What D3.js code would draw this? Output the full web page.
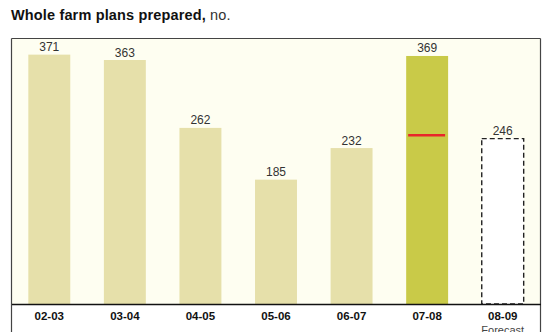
<!DOCTYPE html>
<html>
<head>
<meta charset="utf-8">
<script src="https://cdn.jsdelivr.net/npm/d3@7"></script>
<style>
  html, body { margin: 0; padding: 0; background: #fff; }
  svg { display: block; font-family: "Liberation Sans", Arial, sans-serif; }
</style>
</head>
<body>
<svg id="chart" width="547" height="332"></svg>
<script>
// Whole farm plans prepared, by financial year
const years = ["02-03", "03-04", "04-05", "05-06", "06-07", "07-08", "08-09"];
const plans = [371, 363, 262, 185, 232, 369, 246];
const kinds = ["actual", "actual", "actual", "actual", "actual", "current", "forecast"];
const targetYear = "07-08";
const targetValue = 251;
const yMax = 395;

const svg = d3.select("#chart");
const frame = { left: 11.5, right: 540.5, top: 38.5, axis: 304 };

const x = d3.scaleBand()
  .domain(years)
  .range([frame.left, frame.right])
  .paddingInner(0.445)
  .paddingOuter(0.2225);

const y = d3.scaleLinear()
  .domain([0, yMax])
  .range([frame.axis, frame.top]);

// Title
const title = svg.append("text")
  .attr("x", 11)
  .attr("y", 20)
  .attr("font-size", 14.5)
  .attr("letter-spacing", 0.15)
  .attr("fill", "#111");
title.append("tspan").attr("font-weight", "bold").text("Whole farm plans prepared,");
title.append("tspan").attr("fill", "#333").text(" no.");

// Plot background
svg.append("rect")
  .attr("x", frame.left)
  .attr("y", frame.top)
  .attr("width", frame.right - frame.left)
  .attr("height", frame.axis - frame.top)
  .attr("fill", "#fefef1");

const data = years.map((yr, i) => ({ year: yr, value: plans[i], kind: kinds[i] }));

const fills = { actual: "#e6e0aa", current: "#c9ca48", forecast: "#ffffff" };

svg.append("g").selectAll("rect")
  .data(data)
  .join("rect")
  .attr("x", d => x(d.year))
  .attr("y", d => y(d.value))
  .attr("width", x.bandwidth())
  .attr("height", d => y(0) - y(d.value))
  .attr("fill", d => fills[d.kind])
  .attr("stroke", d => d.kind === "forecast" ? "#222" : "none")
  .attr("stroke-width", 1.4)
  .attr("stroke-dasharray", d => d.kind === "forecast" ? "5,3" : null);

// Target marker
svg.append("line")
  .attr("x1", x(targetYear) + 2)
  .attr("x2", x(targetYear) + x.bandwidth() - 3)
  .attr("y1", y(targetValue))
  .attr("y2", y(targetValue))
  .attr("stroke", "#e8262a")
  .attr("stroke-width", 2.5);

// Value labels
svg.append("g").selectAll("text")
  .data(data)
  .join("text")
  .attr("x", d => x(d.year) + x.bandwidth() / 2)
  .attr("y", d => y(d.value) - 3.5)
  .attr("text-anchor", "middle")
  .attr("font-size", 12)
  .attr("fill", "#333")
  .text(d => d.value);

// Frame borders
const border = svg.append("g").attr("stroke", "#444").attr("stroke-width", 1.2).attr("fill", "none");
border.append("line").attr("x1", frame.left).attr("x2", frame.right).attr("y1", frame.top).attr("y2", frame.top);
border.append("line").attr("x1", frame.left).attr("x2", frame.left).attr("y1", frame.top).attr("y2", 332);
border.append("line").attr("x1", frame.right).attr("x2", frame.right).attr("y1", frame.top).attr("y2", 332);

// Category axis
const axis = svg.append("g")
  .attr("transform", `translate(0,${frame.axis})`)
  .call(d3.axisBottom(x).tickSize(0).tickPadding(8));
axis.select(".domain").attr("stroke", "#111").attr("stroke-width", 1.6);
axis.selectAll(".tick text")
  .attr("font-family", "Liberation Sans, Arial, sans-serif")
  .attr("font-size", 11.5)
  .attr("font-weight", "bold")
  .attr("fill", "#111");

// Forecast note
svg.append("text")
  .attr("x", x("08-09") + x.bandwidth() / 2)
  .attr("y", 334)
  .attr("text-anchor", "middle")
  .attr("font-size", 11)
  .attr("fill", "#444")
  .text("Forecast");
</script>
</body>
</html>
